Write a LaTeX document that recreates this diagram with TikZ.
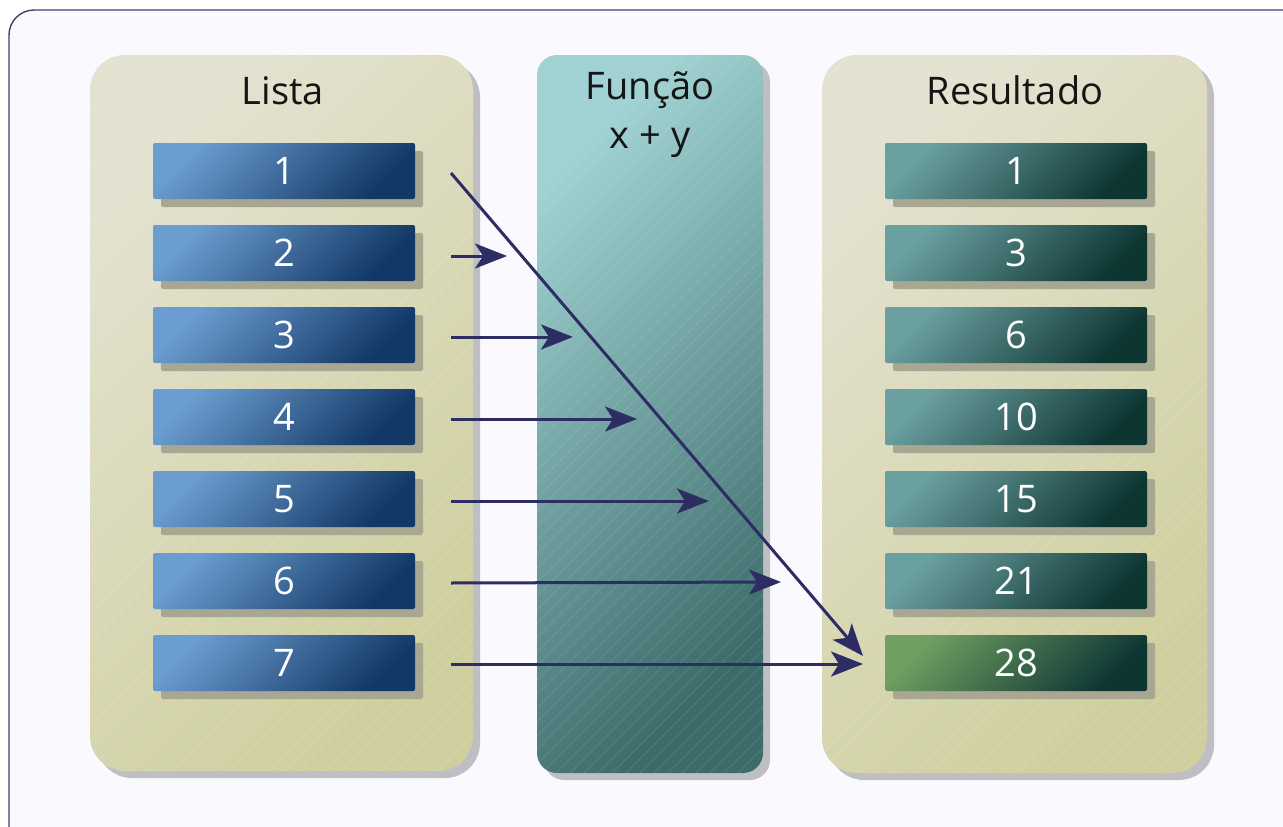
\documentclass[tikz,border=0pt]{standalone}
\usepackage{fontspec}
\setmainfont{Open Sans}
\usetikzlibrary{arrows.meta,shadows}
\definecolor{bgc}{HTML}{F9F9FE}
\definecolor{framec}{HTML}{3F3F7A}
\definecolor{panA}{HTML}{E3E2D0}
\definecolor{panB}{HTML}{CFCF9E}
\definecolor{funA}{HTML}{A0D2D3}
\definecolor{funB}{HTML}{3C6C6A}
\definecolor{bluA}{HTML}{6C9DD0}
\definecolor{bluB}{HTML}{113866}
\definecolor{teaA}{HTML}{6BA0A0}
\definecolor{teaB}{HTML}{0D3633}
\definecolor{greA}{HTML}{6EA062}
\definecolor{pshad}{HTML}{BFBFC3}
\definecolor{bshad}{HTML}{A7A792}
\definecolor{arrc}{HTML}{2E2D63}
\definecolor{titc}{HTML}{151515}
\begin{document}
\begin{tikzpicture}[x=1pt,y=-1pt,
  frame/.style={draw=framec,line width=1.4pt,fill=bgc,rounded corners=25pt},
  panel/.style={rounded corners=35pt,inner sep=0pt,
    drop shadow={shadow xshift=7pt,shadow yshift=-7pt,fill=pshad,opacity=1},
    top color=panA,bottom color=panB,shading angle=45},
  fun/.style={rounded corners=20pt,inner sep=0pt,
    drop shadow={shadow xshift=7pt,shadow yshift=-7pt,fill=pshad,opacity=1},
    top color=funA,bottom color=funB,shading angle=45},
  stripe/.style={white,opacity=.22,line width=.6pt},
  boxbase/.style={minimum width=262pt,minimum height=56pt,inner sep=0pt,rounded corners=2pt,
    text=white,font=\fontsize{38}{40}\selectfont,
    drop shadow={shadow xshift=8pt,shadow yshift=-8pt,fill=bshad,opacity=1}},
  lbox/.style={boxbase,top color=bluA,bottom color=bluB,shading angle=45},
  rbox/.style={boxbase,top color=teaA,bottom color=teaB,shading angle=45},
  gbox/.style={boxbase,top color=greA,bottom color=teaB,shading angle=45},
  title/.style={text=titc,font=\fontsize{38}{52}\selectfont,anchor=base,inner sep=0pt,align=center},
  arr/.style={draw=arrc,line width=3pt,-{Stealth[length=32pt,width=25pt,inset=8pt]}}
]
\useasboundingbox (0,0) rectangle (1283,827);
\begin{scope}
  \clip (0,0) rectangle (1283,827);
  \path[frame] (9,10) rectangle (1320,860);
\end{scope}
% panels
\node[panel,minimum width=383pt,minimum height=716pt] (lista) at (281.5,413) {};
\node[fun,minimum width=226pt,minimum height=718pt] (funcao) at (650,414) {};
\node[panel,minimum width=385pt,minimum height=718pt] (result) at (1014.5,414) {};
% faint diagonal stripes
\begin{scope}
  \clip[rounded corners=35pt] (lista.south west) rectangle (lista.north east);
  \foreach \k in {-640,-626,...,480} \draw[stripe] (\k,771) -- ++(720,-720);
\end{scope}
\begin{scope}
  \clip[rounded corners=20pt] (funcao.south west) rectangle (funcao.north east);
  \foreach \k in {-200,-186,...,770} \draw[stripe,opacity=.14] (\k,773) -- ++(720,-720);
\end{scope}
\begin{scope}
  \clip[rounded corners=35pt] (result.south west) rectangle (result.north east);
  \foreach \k in {90,104,...,1210} \draw[stripe] (\k,773) -- ++(720,-720);
\end{scope}
% titles
\node[title] (tlista) at (283,104) {Lista};
\node[title] (tres) at (1015,104) {Resultado};
\node[title] (tfun) at (650,99) {Função};
\node[title] (tfun2) at (650,148) {x + y};
% list boxes
\node[lbox] (l1) at (284,171) {1};
\node[lbox] (l2) at (284,253) {2};
\node[lbox] (l3) at (284,335) {3};
\node[lbox] (l4) at (284,417) {4};
\node[lbox] (l5) at (284,499) {5};
\node[lbox] (l6) at (284,581) {6};
\node[lbox] (l7) at (284,663) {7};
% result boxes
\node[rbox] (r1) at (1016,171) {1};
\node[rbox] (r2) at (1016,253) {3};
\node[rbox] (r3) at (1016,335) {6};
\node[rbox] (r4) at (1016,417) {10};
\node[rbox] (r5) at (1016,499) {15};
\node[rbox] (r6) at (1016,581) {21};
\node[gbox] (r7) at (1016,663) {28};
% arrow ends
\coordinate (s1) at (451,173);
\coordinate (s2) at (451,256);
\coordinate (s3) at (451,337);
\coordinate (s4) at (451,419);
\coordinate (s5) at (451,501);
\coordinate (s6) at (451,583);
\coordinate (s7) at (451,664);
\coordinate (t1) at (863,656);
\coordinate (t2) at (507,256);
\coordinate (t3) at (573,337);
\coordinate (t4) at (637,419);
\coordinate (t5) at (709,501);
\coordinate (t6) at (781,582);
\coordinate (t7) at (863,664);
\draw[arr] (s2) -- (t2);
\draw[arr] (s3) -- (t3);
\draw[arr] (s4) -- (t4);
\draw[arr] (s5) -- (t5);
\draw[arr] (s6) -- (t6);
\draw[arr] (s7) -- (t7);
\draw[arr] (s1) -- (t1);
\end{tikzpicture}
\end{document}
